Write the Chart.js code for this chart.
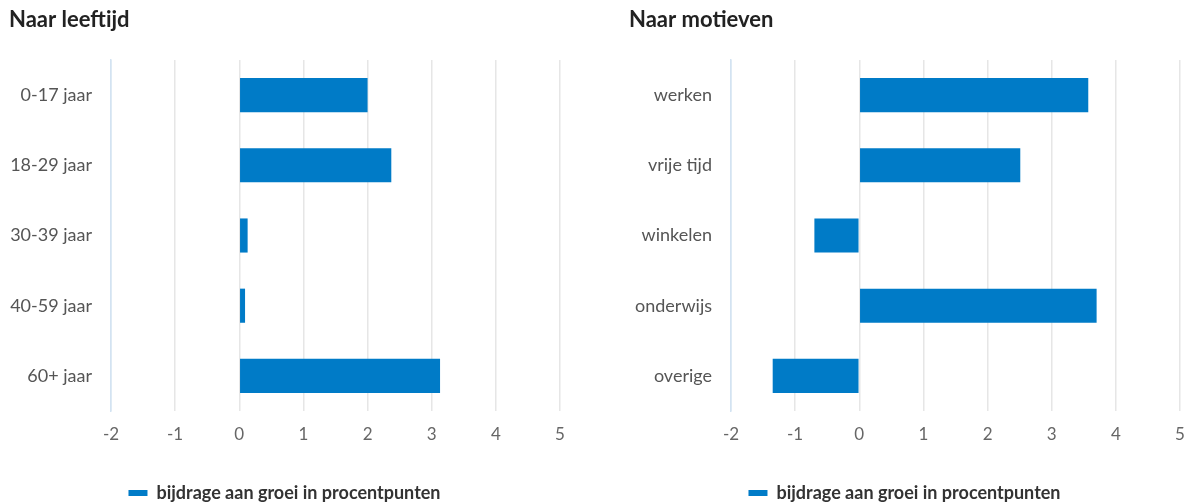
<!DOCTYPE html>
<html>
<head>
<meta charset="utf-8">
<script src="https://cdn.jsdelivr.net/npm/chart.js@4"></script>
<style>
  html, body { margin: 0; padding: 0; background: #ffffff; }
  #wrap { position: relative; width: 1192px; height: 503px; overflow: hidden; }
  .box { position: absolute; top: 0; height: 512px; }
  #leftBox { left: 0; width: 596px; }
  #rightBox { left: 620px; width: 572px; }
</style>
</head>
<body>
<div id="wrap">
  <div class="box" id="leftBox"><canvas id="leftChart"></canvas></div>
  <div class="box" id="rightBox"><canvas id="rightChart"></canvas></div>
</div>
<script>
const ageTitle = 'Naar leeftijd';
const ageCategories = ['0-17 jaar', '18-29 jaar', '30-39 jaar', '40-59 jaar', '60+ jaar'];
const ageValues = [2.0, 2.37, 0.13, 0.09, 3.13];

const motiveTitle = 'Naar motieven';
const motiveCategories = ['werken', 'vrije tijd', 'winkelen', 'onderwijs', 'overige'];
const motiveValues = [3.57, 2.51, -0.70, 3.70, -1.35];

const seriesLabel = 'bijdrage aan groei in procentpunten';
const axisMin = -2;
const axisMax = 5;

const FONT = 'Lato, "Open Sans", sans-serif';
const BLUE = '#007bc7';
const GRID = '#e6e6e6';
const AXISBLUE = '#d3e3f2';

function makeChart(id, title, categories, values, rightPad) {
  return new Chart(document.getElementById(id), {
    type: 'bar',
    data: {
      labels: categories,
      datasets: [{
        label: seriesLabel,
        data: values,
        backgroundColor: BLUE,
        borderWidth: 0,
        categoryPercentage: 1,
        barPercentage: 0.486
      }]
    },
    options: {
      indexAxis: 'y',
      responsive: true,
      maintainAspectRatio: false,
      animation: false,
      layout: { padding: { left: 9, right: rightPad, top: 0, bottom: 0 } },
      plugins: {
        title: {
          display: true,
          text: title,
          align: 'start',
          color: '#222222',
          font: { family: FONT, size: 22, weight: 'bold' },
          padding: { top: 7, bottom: 26.6 }
        },
        legend: {
          display: true,
          position: 'bottom',
          labels: {
            boxWidth: 19,
            boxHeight: 6,
            padding: 39,
            color: '#333333',
            font: { family: FONT, size: 18, weight: 'bold' }
          }
        },
        tooltip: { enabled: false }
      },
      scales: {
        x: {
          min: axisMin,
          max: axisMax,
          afterFit: (scale) => {
            scale.height = 34;
            scale.paddingLeft = 0;
            scale.paddingRight = 4;
          },
          ticks: {
            stepSize: 1,
            padding: 13,
            color: '#666666',
            font: { family: FONT, size: 17 }
          },
          grid: {
            drawTicks: false,
            color: (ctx) => (ctx.tick && ctx.tick.value === axisMin ? AXISBLUE : GRID),
            lineWidth: 1.5
          },
          border: { display: false }
        },
        y: {
          afterFit: (scale) => { scale.width = 102; },
          ticks: {
            padding: 19,
            color: '#555555',
            font: { family: FONT, size: 18 }
          },
          grid: { display: false, drawTicks: false },
          border: { display: true, color: AXISBLUE, width: 1.5 }
        }
      }
    }
  });
}

makeChart('leftChart', ageTitle, ageCategories, ageValues, 36);
makeChart('rightChart', motiveTitle, motiveCategories, motiveValues, 12);
</script>
</body>
</html>
